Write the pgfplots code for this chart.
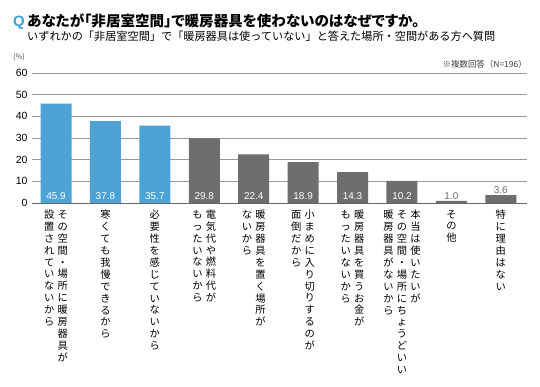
\documentclass[border=0pt]{standalone}
\usepackage{pgfplots}
\pgfplotsset{compat=1.18}
\usepackage{fontspec}
\setmainfont{Noto Sans CJK JP}
\newfontfamily\jpp{Noto Sans CJK JP}[RawFeature=+palt]
\newfontfamily\numfont{Liberation Sans}
\definecolor{barblue}{HTML}{4DA3D5}
\definecolor{bargrey}{HTML}{6E6E6E}
\definecolor{qblue}{HTML}{3AA0D8}
\definecolor{gridc}{HTML}{9A9A9A}
\ExplSyntaxOn
\NewDocumentCommand\vcol{m}{\vtop{\baselineskip=11.9bp\lineskiplimit=-20bp\lineskip=0pt
  \tl_map_inline:nn{#1}{\hbox to 13.5bp{\hss ##1\hss}}}}
\ExplSyntaxOff
\newcommand\labA{\hbox{\vcol{設置されていないから}\vcol{その空間・場所に暖房器具が}}}
\newcommand\labB{\hbox{\vcol{寒くても我慢できるから}}}
\newcommand\labC{\hbox{\vcol{必要性を感じていないから}}}
\newcommand\labD{\hbox{\vcol{もったいないから}\vcol{電気代や燃料代が}}}
\newcommand\labE{\hbox{\vcol{ないから}\vcol{暖房器具を置く場所が}}}
\newcommand\labF{\hbox{\vcol{面倒だから}\vcol{小まめに入り切りするのが}}}
\newcommand\labG{\hbox{\vcol{もったいないから}\vcol{暖房器具を買うお金が}}}
\newcommand\labH{\hbox{\vcol{暖房器具がないから}\vcol{その空間・場所にちょうどいい}\vcol{本当は使いたいが}}}
\newcommand\labI{\hbox{\vcol{その他}}}
\newcommand\labJ{\hbox{\vcol{特に理由はない}}}
\begin{document}
\begin{tikzpicture}
\path[use as bounding box] (0,0) rectangle (540bp,387bp);
\fill[white] (0,0) rectangle (540bp,387bp);
\begin{axis}[
  at={(32bp,184bp)}, anchor=south west,
  scale only axis, width=495bp, height=130bp,
  xmin=-0.486, xmax=9.53, ymin=0, ymax=60,
  axis line style={draw=none},
  ytick={0,10,...,60},
  ymajorgrids, grid style={gridc, line width=0.8bp},
  major tick length=0pt,
  xtick={0,...,9},
  xticklabels={\labA,\labB,\labC,\labD,\labE,\labF,\labG,\labH,\labI,\labJ},
  xticklabel style={anchor=north, inner sep=0pt, yshift=-7bp, font=\fontsize{10.3}{10}\selectfont},
  yticklabel style={font=\numfont\fontsize{10.5}{11}\selectfont, xshift=-1bp},
  /pgf/number format/assume math mode=true,
  clip=false,
]
\addplot[ybar, bar width=31bp, fill=barblue, draw=none] coordinates {(0,45.9) (1,37.8) (2,35.7)};
\addplot[ybar, bar width=31bp, fill=bargrey, draw=none] coordinates {(3,29.8) (4,22.4) (5,18.9) (6,14.3) (7,10.2) (8,1.0) (9,3.6)};
\draw[gray!80!black, line width=0.8bp] (rel axis cs:0,0) -- (rel axis cs:1,0);
\addplot[draw=none, mark=none, nodes near coords, point meta=explicit symbolic,
  every node near coord/.style={anchor=center, text=white, font=\numfont\fontsize{10}{11}\selectfont}]
  coordinates {(0,3.3)[45.9] (1,3.3)[37.8] (2,3.3)[35.7] (3,3.3)[29.8] (4,3.3)[22.4] (5,3.3)[18.9] (6,3.3)[14.3] (7,3.3)[10.2]};
\addplot[draw=none, mark=none, nodes near coords, point meta=explicit symbolic,
  every node near coord/.style={anchor=south, inner sep=1.5bp, text=bargrey, font=\numfont\fontsize{10}{11}\selectfont}]
  coordinates {(8,1.0)[1.0] (9,3.6)[3.6]};
\end{axis}
\node[anchor=base west, inner sep=0pt, text=qblue, font=\numfont\bfseries\fontsize{15}{15}\selectfont] at (13bp,360bp) {Q};
\node[anchor=base west, inner sep=0pt, font=\jpp\bfseries\fontsize{14.6}{15}\selectfont] at (27bp,360bp) {あなたが「非居室空間」で暖房器具を使わないのはなぜですか。};
\node[anchor=base west, inner sep=0pt, font=\fontsize{11.2}{11}\selectfont] at (27bp,346bp) {いずれかの「非居室空間」で「暖房器具は使っていない」と答えた場所・空間がある方へ質問};
\node[anchor=center, inner sep=0pt, text=black!70, font=\jpp\fontsize{7.5}{8}\selectfont] at (19bp,330bp) {(\%)};
\node[anchor=east, inner sep=0pt, text=black!75, font=\fontsize{8.5}{9}\selectfont] at (527bp,323bp) {※複数回答（N=196）};
\end{tikzpicture}
\end{document}
